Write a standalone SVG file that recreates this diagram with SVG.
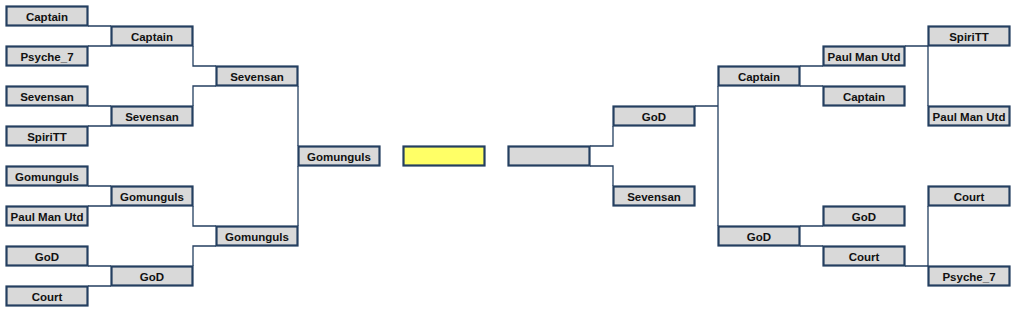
<svg xmlns="http://www.w3.org/2000/svg" width="1018" height="313" viewBox="0 0 1018 313">
<style>
.b rect{fill:#D9D9D9;stroke:#243F60;stroke-width:2.2}
.b text{font-family:"Liberation Sans",Arial,sans-serif;font-weight:bold;font-size:11.5px;fill:#111;text-anchor:middle}
#win rect{fill:#FFFF66}
#conn path{fill:none;stroke:#243F60;stroke-width:1.3}
</style>
<rect width="1018" height="313" fill="#fff"/>
<g id="conn">
<path d="M88,26H111M88,46H111M88,106H111M88,126H111M88,186H111M88,206H111M88,266H111M88,286H111"/>
<path d="M193,46V66H216M193,106V86H216M193,206V226H216M193,266V246H216"/>
<path d="M298,86V146M298,226V166"/>
<path d="M590,146H613V126M590,166H613V186"/>
<path d="M695,106H718M718,86V226"/>
<path d="M800,66H823M800,86H823M800,226H823M800,246H823"/>
<path d="M905,46H928V106M905,266H928V206"/>
</g>
<g id="l1a" class="b"><rect x="6.5" y="6.5" width="81" height="19"/><text x="47" y="21">Captain</text></g>
<g id="l1b" class="b"><rect x="6.5" y="46.5" width="81" height="19"/><text x="47" y="61">Psyche_7</text></g>
<g id="l1c" class="b"><rect x="6.5" y="86.5" width="81" height="19"/><text x="47" y="101">Sevensan</text></g>
<g id="l1d" class="b"><rect x="6.5" y="126.5" width="81" height="19"/><text x="47" y="141">SpiriTT</text></g>
<g id="l1e" class="b"><rect x="6.5" y="166.5" width="81" height="19"/><text x="47" y="181">Gomunguls</text></g>
<g id="l1f" class="b"><rect x="6.5" y="206.5" width="81" height="19"/><text x="47" y="221">Paul Man Utd</text></g>
<g id="l1g" class="b"><rect x="6.5" y="246.5" width="81" height="19"/><text x="47" y="261">GoD</text></g>
<g id="l1h" class="b"><rect x="6.5" y="286.5" width="81" height="19"/><text x="47" y="301">Court</text></g>
<g id="l2a" class="b"><rect x="111.5" y="26.5" width="81" height="19"/><text x="152" y="41">Captain</text></g>
<g id="l2b" class="b"><rect x="111.5" y="106.5" width="81" height="19"/><text x="152" y="121">Sevensan</text></g>
<g id="l2c" class="b"><rect x="111.5" y="186.5" width="81" height="19"/><text x="152" y="201">Gomunguls</text></g>
<g id="l2d" class="b"><rect x="111.5" y="266.5" width="81" height="19"/><text x="152" y="281">GoD</text></g>
<g id="l3a" class="b"><rect x="216.5" y="66.5" width="81" height="19"/><text x="257" y="81">Sevensan</text></g>
<g id="l3b" class="b"><rect x="216.5" y="226.5" width="81" height="19"/><text x="257" y="241">Gomunguls</text></g>
<g id="lf" class="b"><rect x="298.5" y="146.5" width="81" height="19"/><text x="339" y="161">Gomunguls</text></g>
<g id="win" class="b"><rect x="403.5" y="146.5" width="81" height="19"/></g>
<g id="rf" class="b"><rect x="508.5" y="146.5" width="81" height="19"/></g>
<g id="r3a" class="b"><rect x="613.5" y="106.5" width="81" height="19"/><text x="654" y="121">GoD</text></g>
<g id="r3b" class="b"><rect x="613.5" y="186.5" width="81" height="19"/><text x="654" y="201">Sevensan</text></g>
<g id="r2a" class="b"><rect x="718.5" y="66.5" width="81" height="19"/><text x="759" y="81">Captain</text></g>
<g id="r2b" class="b"><rect x="718.5" y="226.5" width="81" height="19"/><text x="759" y="241">GoD</text></g>
<g id="r1a" class="b"><rect x="823.5" y="46.5" width="81" height="19"/><text x="864" y="61">Paul Man Utd</text></g>
<g id="r1b" class="b"><rect x="823.5" y="86.5" width="81" height="19"/><text x="864" y="101">Captain</text></g>
<g id="r1c" class="b"><rect x="823.5" y="206.5" width="81" height="19"/><text x="864" y="221">GoD</text></g>
<g id="r1d" class="b"><rect x="823.5" y="246.5" width="81" height="19"/><text x="864" y="261">Court</text></g>
<g id="r0a" class="b"><rect x="928.5" y="26.5" width="81" height="19"/><text x="969" y="41">SpiriTT</text></g>
<g id="r0b" class="b"><rect x="928.5" y="106.5" width="81" height="19"/><text x="969" y="121">Paul Man Utd</text></g>
<g id="r0c" class="b"><rect x="928.5" y="186.5" width="81" height="19"/><text x="969" y="201">Court</text></g>
<g id="r0d" class="b"><rect x="928.5" y="266.5" width="81" height="19"/><text x="969" y="281">Psyche_7</text></g>
</svg>
